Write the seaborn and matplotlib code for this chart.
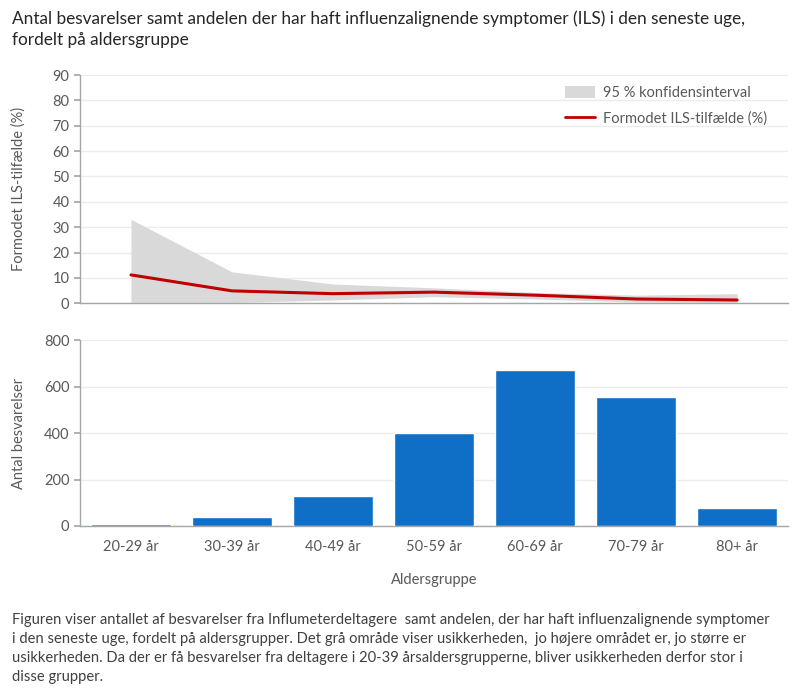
import matplotlib
matplotlib.use("Agg")
import matplotlib.pyplot as plt
import seaborn as sns
import numpy as np
import pandas as pd
from matplotlib.patches import Patch
from matplotlib.lines import Line2D

# data
age_groups = ["20-29 år", "30-39 år", "40-49 år", "50-59 år", "60-69 år", "70-79 år", "80+ år"]
ils_pct = [11.2, 4.9, 3.8, 4.4, 3.2, 1.7, 1.3]
ci_lower = [0.0, 0.3, 1.3, 2.6, 1.7, 0.5, 0.3]
ci_upper = [33.1, 12.4, 7.6, 6.1, 4.3, 3.2, 3.8]
responses = [7, 40, 131, 401, 671, 555, 79]

title = ("Antal besvarelser samt andelen der har haft influenzalignende symptomer (ILS) i den seneste uge,\n"
         "fordelt på aldersgruppe")
footnote = ("Figuren viser antallet af besvarelser fra Influmeterdeltagere  samt andelen, der har haft influenzalignende symptomer\n"
            "i den seneste uge, fordelt på aldersgrupper. Det grå område viser usikkerheden,  jo højere området er, jo større er\n"
            "usikkerheden. Da der er få besvarelser fra deltagere i 20-39 årsaldersgrupperne, bliver usikkerheden derfor stor i\n"
            "disse grupper.")

sns.set_theme(style="white")
plt.rcParams["font.family"] = ["Lato", "DejaVu Sans"]

text_col = "#595959"
axis_col = "#a6a6a6"
grid_col = "#ececec"
bar_col = "#0f6fc6"
line_col = "#c00000"
ci_col = "#d9d9d9"

df = pd.DataFrame({"age": age_groups, "ils": ils_pct, "lo": ci_lower,
                   "hi": ci_upper, "n": responses})
pos = np.arange(len(age_groups))

fig = plt.figure(figsize=(8, 6.92), dpi=100)
ax1 = fig.add_axes([0.1006, 0.5617, 0.884, 0.3299])
ax2 = fig.add_axes([0.1006, 0.2399, 0.884, 0.2687])

# top panel: ILS share with CI
ax1.fill_between(pos, df["lo"], df["hi"], color=ci_col, linewidth=0, zorder=2)
sns.lineplot(x=pos, y=df["ils"], color=line_col, linewidth=2.2, ax=ax1, zorder=3)
ax1.set_ylim(0, 90)
ax1.set_yticks(range(0, 91, 10))
ax1.set_xlim(-0.5, len(age_groups) - 0.5)
ax1.set_xticks(np.arange(-0.5, len(age_groups), 1.0))
ax1.set_xticklabels([])
ax1.set_xlabel("")
ax1.set_ylabel("Formodet ILS-tilfælde (%)", color=text_col, fontsize=10.5)
ax1.yaxis.set_label_coords(-0.077, 0.5)
handles = [Patch(facecolor=ci_col, edgecolor="none"),
           Line2D([0], [0], color=line_col, linewidth=2)]
ax1.legend(handles, ["95 % konfidensinterval", "Formodet ILS-tilfælde (%)"],
           loc="upper right", bbox_to_anchor=(0.99, 1.01), frameon=False,
           fontsize=10.5, labelcolor=text_col, handlelength=2.0, handleheight=0.9,
           labelspacing=0.75, handletextpad=0.6)

# bottom panel: number of responses
sns.barplot(data=df, x="age", y="n", color=bar_col, saturation=1, width=0.79,
            ax=ax2, zorder=3)
ax2.set_ylim(0, 800)
ax2.set_yticks(range(0, 801, 200))
ax2.set_xlim(-0.5, len(age_groups) - 0.5)
ax2.set_xticks(np.arange(-0.5, len(age_groups), 1.0), minor=True)
ax2.tick_params(axis="x", which="major", length=0, pad=10)
ax2.tick_params(axis="x", which="minor", length=6, color=axis_col, width=1)
ax2.set_xlabel("Aldersgruppe", color=text_col, fontsize=10.5, labelpad=14)
ax2.set_ylabel("Antal besvarelser", color=text_col, fontsize=10.5)
ax2.yaxis.set_label_coords(-0.077, 0.5)

for ax in (ax1, ax2):
    for side in ("top", "right"):
        ax.spines[side].set_visible(False)
    for side in ("left", "bottom"):
        ax.spines[side].set_color(axis_col)
        ax.spines[side].set_linewidth(1)
        ax.spines[side].set_zorder(2)
    ax.grid(axis="y", color=grid_col, linewidth=1, zorder=0)
    ax.set_axisbelow(True)
    ax.tick_params(axis="y", length=4, color=axis_col, labelcolor=text_col, labelsize=10.5, pad=4)
    ax.tick_params(axis="x", labelcolor=text_col, labelsize=10.5)
ax1.tick_params(axis="x", length=6, color=axis_col, width=1)
ax1.tick_params(axis="y", left=True)
ax2.tick_params(axis="y", left=True)

fig.text(0.015, 0.985, title, ha="left", va="top", fontsize=12.4, color="#262626",
         linespacing=1.4)
fig.text(0.015, 0.114, footnote, ha="left", va="top", fontsize=10.6, color="#404040",
         linespacing=1.45)

fig.savefig("out.png", dpi=100)
